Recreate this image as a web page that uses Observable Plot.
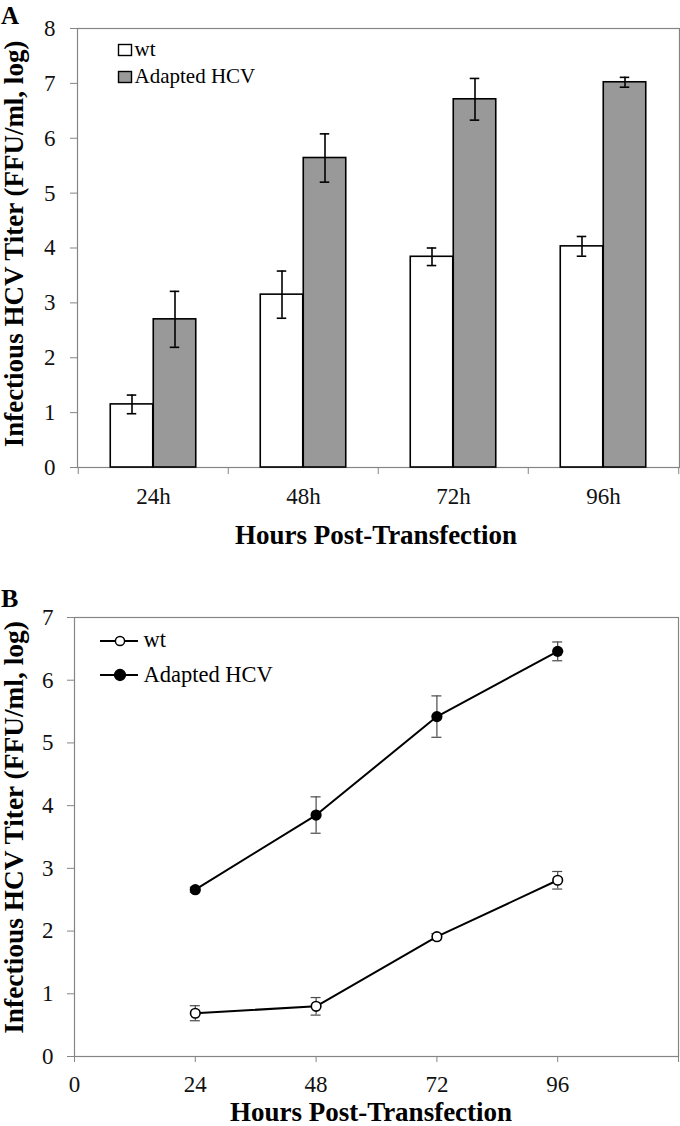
<!DOCTYPE html>
<html><head><meta charset="utf-8">
<script src="https://cdn.jsdelivr.net/npm/d3@7"></script>
<script src="https://cdn.jsdelivr.net/npm/@observablehq/plot@0.6"></script>
<style>
html,body{margin:0;padding:0;background:#fff;}
#wrap{position:relative;width:680px;height:1126px;font-family:"Liberation Serif","Times New Roman",serif;}
#wrap > svg{display:block;}
#overlay{position:absolute;left:0;top:0;pointer-events:none;}
</style></head><body><div id="wrap"></div>
<script>
// ---------- data ----------
const seriesNames = ["wt", "Adapted HCV"];
const panelLetters = ["A", "B"];
const yTitle = "Infectious HCV Titer (FFU/ml, log)";
const xTitle = "Hours Post-Transfection";

// Panel A (bars)
const hoursA = ["24h", "48h", "72h", "96h"];
const wtA = [1.15, 3.15, 3.84, 4.03];
const wtAErr = [0.17, 0.43, 0.16, 0.18];
const adaptedA = [2.70, 5.64, 6.71, 7.02];
const adaptedAErr = [0.51, 0.44, 0.38, 0.09];
const yTicksA = [0, 1, 2, 3, 4, 5, 6, 7, 8];

// Panel B (lines)
const hoursB = [24, 48, 72, 96];
const wtB = [0.69, 0.80, 1.91, 2.81];
const wtBErr = [0.12, 0.14, 0.05, 0.14];
const adaptedB = [2.66, 3.85, 5.42, 6.46];
const adaptedBErr = [0.04, 0.29, 0.33, 0.15];
const xTicksB = [0, 24, 48, 72, 96, 120];
const yTicksB = [0, 1, 2, 3, 4, 5, 6, 7];

// ---------- tables ----------
const rowsA = hoursA.flatMap((h, i) => [
  {hour: h, series: seriesNames[0], value: wtA[i], err: wtAErr[i]},
  {hour: h, series: seriesNames[1], value: adaptedA[i], err: adaptedAErr[i]}
]);
const wtRowsA = rowsA.filter(d => d.series === seriesNames[0]);
const adRowsA = rowsA.filter(d => d.series === seriesNames[1]);

const rowsB = hoursB.flatMap((h, i) => [
  {hour: h, series: seriesNames[0], value: wtB[i], err: wtBErr[i]},
  {hour: h, series: seriesNames[1], value: adaptedB[i], err: adaptedBErr[i]}
]);
const wtRowsB = rowsB.filter(d => d.series === seriesNames[0]);
const adRowsB = rowsB.filter(d => d.series === seriesNames[1]);

const FONT = "Liberation Serif";
const AXIS = "#858585";
const TXT = "#111";
const W = 680;
const TICKFS = 23;
const intFmt = d => String(d);

// ---------- Panel A ----------
const mLA = 77, mRA = 1;
const bw = (W - mLA - mRA) / hoursA.length;
const half = bw / 2;
const barW = 43;
const cap = 5;

const plotA = Plot.plot({
  width: W, height: 560,
  marginLeft: mLA, marginRight: mRA, marginTop: 28, marginBottom: 93,
  x: {domain: hoursA, padding: 0, label: null},
  y: {domain: [0, 8], label: null},
  style: {fontFamily: FONT, fontSize: "22px", background: "#fff", overflow: "visible", color: TXT},
  marks: [
    Plot.frame({stroke: AXIS, strokeWidth: 1.2}),
    Plot.barY(wtRowsA, {x: "hour", y: "value", fill: "#fff", stroke: "#000", strokeWidth: 1.6,
      insetLeft: half - barW, insetRight: half}),
    Plot.barY(adRowsA, {x: "hour", y: "value", fill: "#999999", stroke: "#000", strokeWidth: 1.6,
      insetLeft: half, insetRight: half - barW}),
    // error bars
    Plot.ruleX(wtRowsA, {x: "hour", y1: d => d.value - d.err, y2: d => d.value + d.err, dx: -barW / 2, stroke: "#000", strokeWidth: 1.6}),
    Plot.ruleX(adRowsA, {x: "hour", y1: d => d.value - d.err, y2: d => d.value + d.err, dx: barW / 2, stroke: "#000", strokeWidth: 1.6}),
    Plot.tickY(wtRowsA, {x: "hour", y: d => d.value + d.err, insetLeft: half - barW / 2 - cap, insetRight: half + barW / 2 - cap, stroke: "#000", strokeWidth: 1.6}),
    Plot.tickY(wtRowsA, {x: "hour", y: d => d.value - d.err, insetLeft: half - barW / 2 - cap, insetRight: half + barW / 2 - cap, stroke: "#000", strokeWidth: 1.6}),
    Plot.tickY(adRowsA, {x: "hour", y: d => d.value + d.err, insetLeft: half + barW / 2 - cap, insetRight: half - barW / 2 - cap, stroke: "#000", strokeWidth: 1.6}),
    Plot.tickY(adRowsA, {x: "hour", y: d => d.value - d.err, insetLeft: half + barW / 2 - cap, insetRight: half - barW / 2 - cap, stroke: "#000", strokeWidth: 1.6}),
    // axes
    Plot.axisY({ticks: yTicksA, tickFormat: intFmt, tickSize: 7, tickPadding: 15, stroke: AXIS, fill: TXT, fontSize: TICKFS, label: null}),
    Plot.axisX({tickSize: 0, tickPadding: 20, fill: TXT, fontSize: TICKFS, label: null}),
    Plot.axisX({tickSize: 7, tickFormat: () => "", dx: -half, stroke: AXIS, label: null}),
    Plot.axisX({ticks: hoursA.slice(-1), tickSize: 7, tickFormat: () => "", dx: half, stroke: AXIS, label: null}),
    // titles
    Plot.text([xTitle], {frameAnchor: "bottom", textAnchor: "middle", lineAnchor: "middle",
      dx: -2.5, dy: 67.4, fontWeight: "bold", fontSize: 27, fill: "#000"}),
    Plot.text([yTitle], {frameAnchor: "left", textAnchor: "middle", lineAnchor: "middle", rotate: -90,
      dx: -63, dy: -4, fontWeight: "bold", fontSize: 27, fill: "#000"})
  ]
});

// ---------- Panel B ----------
const mLB = 74, mRB = 2;
const capB = 5 * 120 / (W - mLB - mRB);

const plotB = Plot.plot({
  width: W, height: 566,
  marginLeft: mLB, marginRight: mRB, marginTop: 57, marginBottom: 70,
  x: {domain: [0, 120], label: null},
  y: {domain: [0, 7], label: null},
  style: {fontFamily: FONT, fontSize: "22px", background: "#fff", overflow: "visible", color: TXT},
  marks: [
    Plot.frame({stroke: AXIS, strokeWidth: 1.2}),
    Plot.ruleX(rowsB, {x: "hour", y1: d => d.value - d.err, y2: d => d.value + d.err, stroke: "#4a4a4a", strokeWidth: 1.2}),
    Plot.ruleY(rowsB, {y: d => d.value + d.err, x1: d => d.hour - capB, x2: d => d.hour + capB, stroke: "#4a4a4a", strokeWidth: 1.2}),
    Plot.ruleY(rowsB, {y: d => d.value - d.err, x1: d => d.hour - capB, x2: d => d.hour + capB, stroke: "#4a4a4a", strokeWidth: 1.2}),
    Plot.line(rowsB, {x: "hour", y: "value", z: "series", stroke: "#000", strokeWidth: 2}),
    Plot.dot(wtRowsB, {x: "hour", y: "value", r: 4.8, fill: "#fff", stroke: "#000", strokeWidth: 1.6}),
    Plot.dot(adRowsB, {x: "hour", y: "value", r: 5.6, fill: "#000"}),
    Plot.axisY({ticks: yTicksB, tickFormat: intFmt, tickSize: 7, tickPadding: 14, stroke: AXIS, fill: TXT, fontSize: TICKFS, label: null}),
    Plot.axisX({ticks: xTicksB, tickSize: 6, tickPadding: 13, stroke: AXIS, fill: TXT, fontSize: TICKFS, label: null,
      tickFormat: d => (d === 120 ? "" : String(d))}),
    Plot.text([xTitle], {frameAnchor: "bottom", textAnchor: "middle", lineAnchor: "middle",
      dx: -5.5, dy: 55.5, fontWeight: "bold", fontSize: 27, fill: "#000"}),
    Plot.text([yTitle], {frameAnchor: "left", textAnchor: "middle", lineAnchor: "middle", rotate: -90,
      dx: -60.3, dy: -9.5, fontWeight: "bold", fontSize: 27.4, fill: "#000"})
  ]
});

const wrap = document.getElementById("wrap");
wrap.appendChild(plotA);
wrap.appendChild(plotB);

// ---------- overlay: panel letters & legends ----------
const ov = d3.select(wrap).append("svg").attr("id", "overlay")
  .attr("width", W).attr("height", 1126)
  .style("font-family", FONT);

ov.append("text").attr("x", 1).attr("y", 24).attr("font-size", 25).attr("font-weight", "bold").text(panelLetters[0]);
ov.append("text").attr("x", 1).attr("y", 607).attr("font-size", 26).attr("font-weight", "bold").text(panelLetters[1]);

// legend A
const legA = [{name: seriesNames[0], fill: "#fff", top: 44.5, base: 55.5},
              {name: seriesNames[1], fill: "#999999", top: 71.5, base: 83}];
legA.forEach(l => {
  ov.append("rect").attr("x", 118.5).attr("y", l.top).attr("width", 13).attr("height", 11)
    .attr("fill", l.fill).attr("stroke", "#000").attr("stroke-width", 1.4);
  ov.append("text").attr("x", 134.5).attr("y", l.base).attr("font-size", 21).attr("fill", "#000").text(l.name);
});

// legend B
const legB = [{name: seriesNames[0], fill: "#fff", r: 4.6, cy: 641, base: 647},
              {name: seriesNames[1], fill: "#000", r: 5.4, cy: 675, base: 681.5}];
legB.forEach(l => {
  ov.append("line").attr("x1", 100).attr("x2", 138).attr("y1", l.cy).attr("y2", l.cy)
    .attr("stroke", "#000").attr("stroke-width", 2);
  ov.append("circle").attr("cx", 120).attr("cy", l.cy).attr("r", l.r)
    .attr("fill", l.fill).attr("stroke", "#000").attr("stroke-width", 1.5);
  ov.append("text").attr("x", 143.5).attr("y", l.base).attr("font-size", 22.5).attr("fill", "#000").text(l.name);
});
</script></body></html>
